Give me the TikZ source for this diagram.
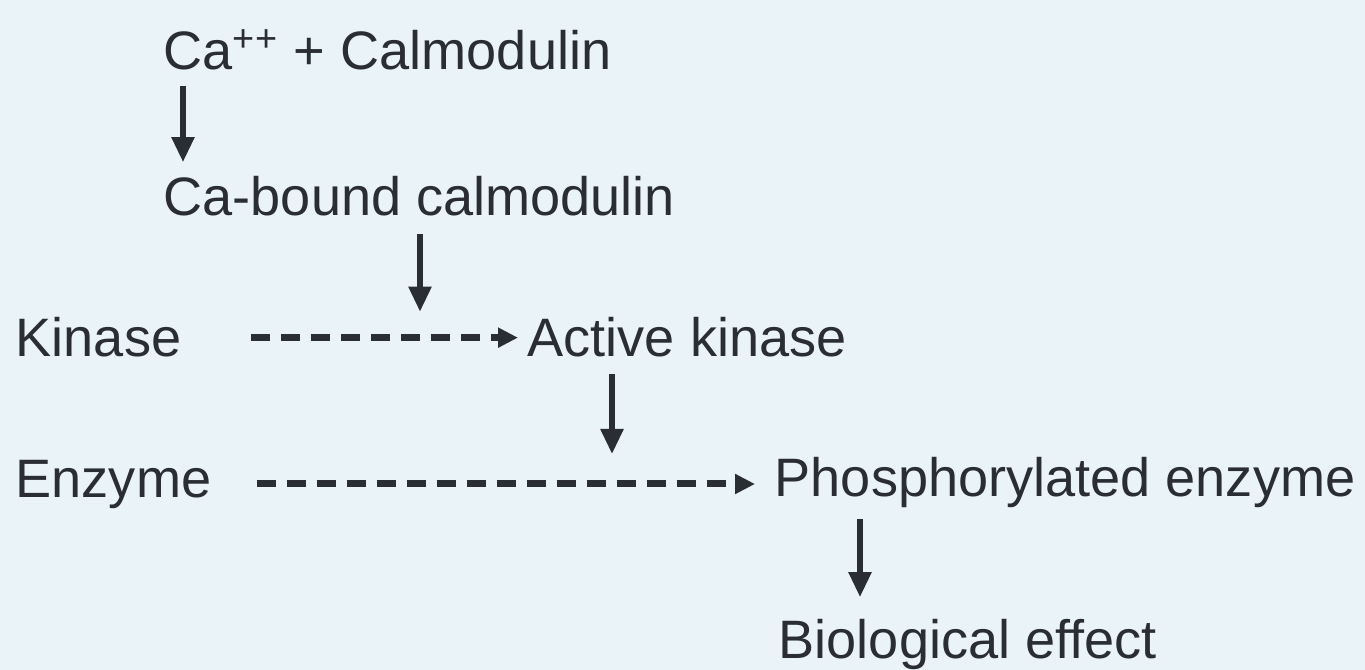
\documentclass[tikz,border=0pt]{standalone}
\usepackage{fontspec}
\setmainfont{Liberation Sans}
\usetikzlibrary{arrows.meta}
\definecolor{bgblue}{RGB}{234,243,247}
\definecolor{ink}{RGB}{42,46,50}

\begin{document}
\begin{tikzpicture}[
  txt/.style={anchor=base west, inner sep=0pt, text=ink,
              font=\fontsize{15.4}{18}\selectfont},
  arr/.style={-{Triangle[length=0.25cm,width=0.22cm]}, draw=ink,
              line width=0.055cm},
  dasharr/.style={-{Triangle[length=0.2cm,width=0.19cm]}, draw=ink,
                  line width=0.07cm, dash pattern=on 0.19cm off 0.11cm}
]
\fill[bgblue] (0,0) rectangle (13.65,-6.70);
\useasboundingbox (0,0) rectangle (13.65,-6.70);

\node[txt] (ca)      at (1.63,-0.70) {Ca\textsuperscript{++} + Calmodulin};
\node[txt] (cabound) at (1.63,-2.16) {Ca-bound calmodulin};
\node[txt] (kinase)  at (0.15,-3.57) {Kinase};
\node[txt] (active)  at (5.27,-3.57) {Active kinase};
\node[txt] (enzyme)  at (0.15,-4.97) {Enzyme};
\node[txt] (phos)    at (7.74,-4.96) {Phosphorylated enzyme};
\node[txt] (bio)     at (7.78,-6.58) {Biological effect};

% points on the dashed arrows
\coordinate (kmid) at ([xshift=2.57cm]cabound.south west |- active.west);
\coordinate (emid) at ([xshift=0.85cm]active.south west |- enzyme.east);

\draw[arr, shorten <=0.15cm, shorten >=0.14cm]
  ([xshift=0.2cm]ca.south west) -- ([xshift=0.2cm]ca.south west |- cabound.north);
\draw[arr, shorten <=0.17cm, shorten >=0.26cm]
  ([xshift=2.57cm]cabound.south west) -- (kmid);
\draw[dasharr, shorten <=0.69cm, shorten >=0.09cm] (kinase.east) -- (active.west);
\draw[arr, shorten <=0.16cm, shorten >=0.30cm]
  ([xshift=0.85cm]active.south west) -- (emid);
\draw[dasharr, shorten <=0.45cm, shorten >=0.19cm]
  (enzyme.east) -- (enzyme.east -| phos.west);
\draw[arr, shorten <=0.11cm, shorten >=0.21cm]
  ([xshift=0.86cm]phos.south west) -- ([xshift=0.86cm]phos.south west |- bio.north);

\end{tikzpicture}
\end{document}
